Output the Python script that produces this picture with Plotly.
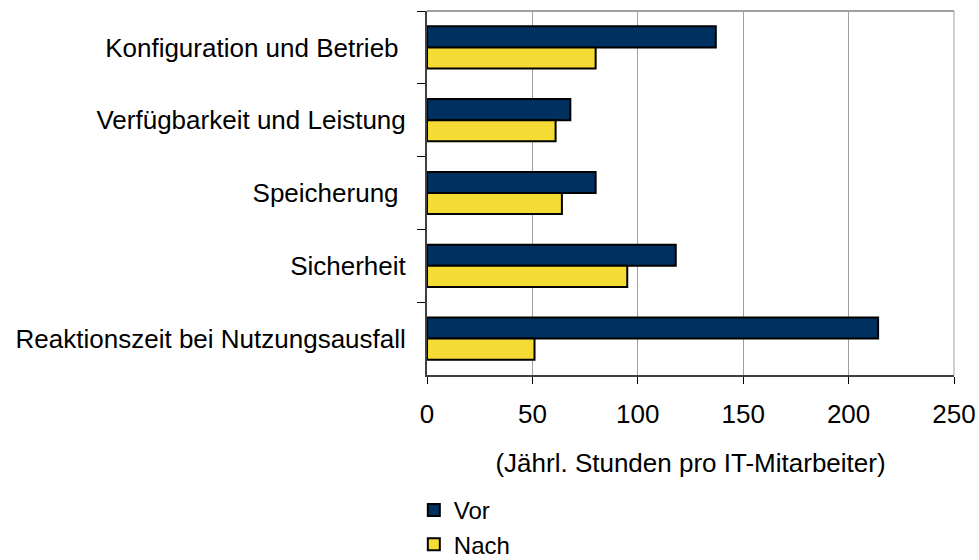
import plotly.graph_objects as go

# --------------------------------------------------
# DATA
# --------------------------------------------------

categories = [
    "Konfiguration und Betrieb\u00a0",
    "Verfügbarkeit und Leistung",
    "Speicherung\u00a0",
    "Sicherheit",
    "Reaktionszeit bei Nutzungsausfall",
]
vor = [137, 68, 80, 118, 214]
nach = [80, 61, 64, 95, 51]
x_ticks = [0, 50, 100, 150, 200, 250]

FONT = "Liberation Sans, Arial, sans-serif"
FS = 26

# --------------------------------------------------
# FIGURE
# --------------------------------------------------

fig = go.Figure()

fig.add_trace(go.Bar(
    y=categories, x=vor, name="Vor", orientation="h", legendgroup="vor",
    marker=dict(color="#003060", line=dict(color="#000000", width=2)),
))
fig.add_trace(go.Bar(
    y=categories, x=nach, name="Nach", orientation="h", legendgroup="nach",
    marker=dict(color="#F5DC35", line=dict(color="#000000", width=2)),
))

fig.update_layout(
    width=979, height=560,
    margin=dict(l=427, r=25, t=11, b=185, autoexpand=False),
    paper_bgcolor="white", plot_bgcolor="white",
    font=dict(family=FONT, size=FS, color="#000000"),
    barmode="group", bargap=0.42, bargroupgap=0,
    showlegend=True,
    legend=dict(
        x=-0.025, y=-0.31, xanchor="left", yanchor="top",
        orientation="v", traceorder="normal",
        font=dict(size=24), itemwidth=30, tracegroupgap=0,
        bgcolor="rgba(0,0,0,0)",
    ),
    xaxis=dict(
        range=[0, 250], tickvals=x_ticks, automargin=False,
        tickfont=dict(size=FS),
        showgrid=True, gridcolor="#a0a0a0", gridwidth=1,
        showline=True, linecolor="#404040", linewidth=2,
        ticks="outside", ticklen=7, tickcolor="#000000",
        zeroline=False, ticklabelstandoff=8,
        title=dict(text="(Jährl. Stunden pro IT-Mitarbeiter)", standoff=26,
                   font=dict(size=FS)),
    ),
    yaxis=dict(
        type="category", autorange="reversed", automargin=False,
        tickfont=dict(size=FS),
        showline=True, linecolor="#404040", linewidth=2,
        ticks="outside", ticklen=8, tickcolor="#000000",
        tickson="boundaries", showgrid=False,
        ticklabelstandoff=14,
    ),
    shapes=[
        dict(type="line", xref="paper", yref="paper", x0=0, x1=1, y0=1, y1=1,
             line=dict(color="#a0a0a0", width=2)),
        dict(type="line", xref="paper", yref="paper", x0=1, x1=1, y0=0, y1=1,
             line=dict(color="#a0a0a0", width=1)),
    ],
)

# drop the default 8px body margin so the figure fills the window exactly
fig.write_html(
    "out.html",
    config={"displayModeBar": False},
    post_script="document.body.style.margin='0';document.body.style.overflow='hidden';",
)
